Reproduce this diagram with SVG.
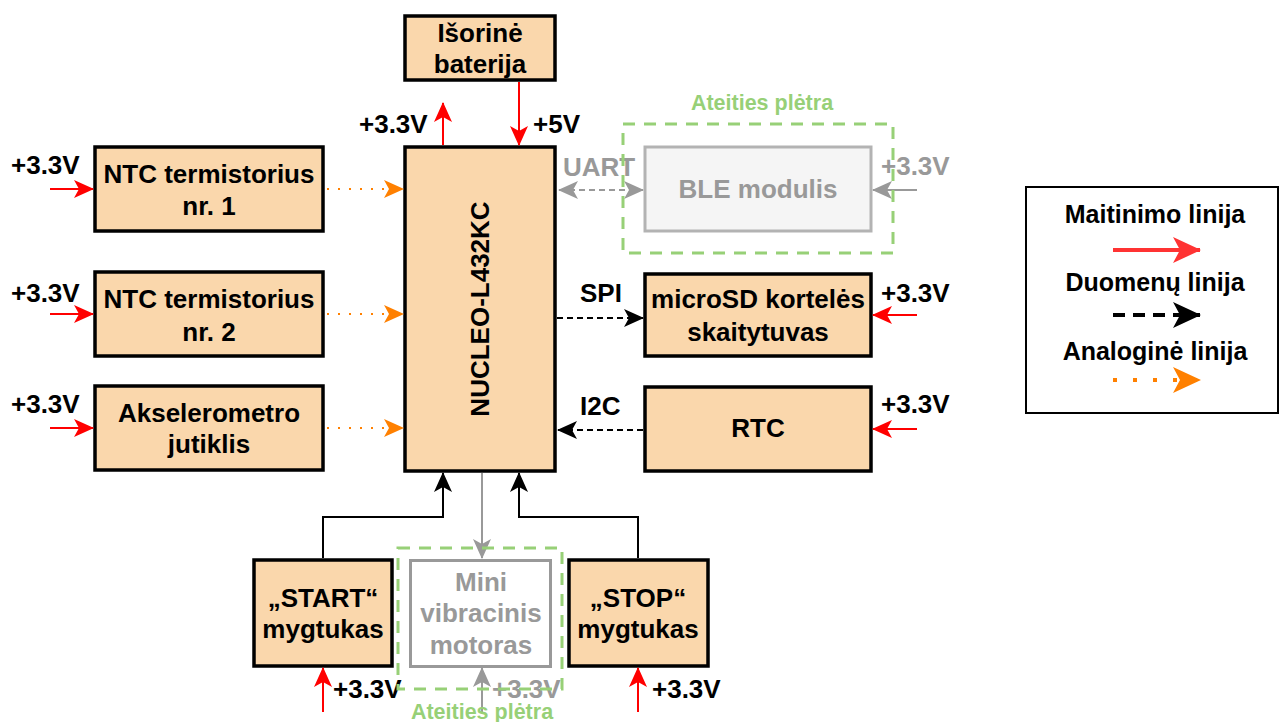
<svg xmlns="http://www.w3.org/2000/svg" width="1280" height="722" viewBox="0 0 1280 722">
<style>
text{font-family:"Liberation Sans",Arial,Helvetica,sans-serif;font-weight:bold;font-size:26px;fill:#000}
.c{text-anchor:middle}
.lg{font-size:25px}
.g{fill:#999999}
.gr{fill:#97d077;font-size:21.5px;text-anchor:middle}
.box{fill:#fad7ac;stroke:#000;stroke-width:3.5}
.fut{fill:none;stroke:#97d077;stroke-width:3;stroke-dasharray:12 9}
.pw{fill:none;stroke:#ff0000;stroke-width:2;marker-end:url(#mr)}
.an{fill:none;stroke:#ff8000;stroke-width:2;stroke-dasharray:2 9;marker-end:url(#mo)}
.dt{fill:none;stroke:#000;stroke-width:2;stroke-dasharray:6 4;marker-end:url(#mk)}
.sl{fill:none;stroke:#000;stroke-width:2;marker-end:url(#mk)}
.gl{fill:none;stroke:#999999;stroke-width:2;marker-end:url(#mg)}
</style>
<defs>
<marker id="mr" markerUnits="userSpaceOnUse" markerWidth="20" markerHeight="20" viewBox="0 0 20 20" refX="19" refY="10" orient="auto"><path d="M0,1 L20,10 L0,19 L5,10 Z" fill="#ff0000"/></marker>
<marker id="mo" markerUnits="userSpaceOnUse" markerWidth="20" markerHeight="20" viewBox="0 0 20 20" refX="19" refY="10" orient="auto"><path d="M0,1 L20,10 L0,19 L5,10 Z" fill="#ff8000"/></marker>
<marker id="mk" markerUnits="userSpaceOnUse" markerWidth="20" markerHeight="20" viewBox="0 0 20 20" refX="19" refY="10" orient="auto"><path d="M0,1 L20,10 L0,19 L5,10 Z" fill="#000"/></marker>
<marker id="mg" markerUnits="userSpaceOnUse" markerWidth="20" markerHeight="20" viewBox="0 0 20 20" refX="19" refY="10" orient="auto-start-reverse"><path d="M0,1 L20,10 L0,19 L5,10 Z" fill="#999999"/></marker>
<marker id="lr" markerUnits="userSpaceOnUse" markerWidth="28" markerHeight="28" viewBox="0 0 28 28" refX="27" refY="14" orient="auto"><path d="M0,1 L28,14 L0,27 L7,14 Z" fill="#ff3333"/></marker>
<marker id="lk" markerUnits="userSpaceOnUse" markerWidth="28" markerHeight="28" viewBox="0 0 28 28" refX="27" refY="14" orient="auto"><path d="M0,1 L28,14 L0,27 L7,14 Z" fill="#000"/></marker>
<marker id="lo" markerUnits="userSpaceOnUse" markerWidth="28" markerHeight="28" viewBox="0 0 28 28" refX="27" refY="14" orient="auto"><path d="M0,1 L28,14 L0,27 L7,14 Z" fill="#ff8000"/></marker>
</defs>
<rect width="1280" height="722" fill="#fff"/>

<g id="battery"><rect class="box" x="405" y="16" width="150" height="64"/><text class="c" x="480" y="42">Išorinė</text><text class="c" x="480" y="73">baterija</text></g>
<g id="nucleo"><rect class="box" x="405" y="147" width="150" height="324"/><text class="c" transform="translate(489,309) rotate(-90)">NUCLEO-L432KC</text></g>
<g id="ntc1"><rect class="box" x="95" y="147" width="228" height="84"/><text class="c" x="209" y="183">NTC termistorius</text><text class="c" x="209" y="215">nr. 1</text></g>
<g id="ntc2"><rect class="box" x="95" y="272" width="228" height="84"/><text class="c" x="209" y="308">NTC termistorius</text><text class="c" x="209" y="341">nr. 2</text></g>
<g id="accel"><rect class="box" x="95" y="386" width="228" height="84"/><text class="c" x="209" y="422">Akselerometro</text><text class="c" x="209" y="453">jutiklis</text></g>
<g id="ble"><rect x="645" y="147" width="226" height="84" fill="#f5f5f5" stroke="#b3b3b3" stroke-width="3"/><text class="c g" x="758" y="198">BLE modulis</text></g>
<g id="microsd"><rect class="box" x="645" y="274" width="226" height="82"/><text class="c" x="758" y="308">microSD kortelės</text><text class="c" x="758" y="341">skaitytuvas</text></g>
<g id="rtc"><rect class="box" x="645" y="387" width="226" height="84"/><text class="c" x="758" y="437">RTC</text></g>
<g id="start"><rect class="box" x="254" y="560" width="138" height="106"/><text class="c" x="323" y="607">„START“</text><text class="c" x="323" y="638">mygtukas</text></g>
<g id="motor"><rect x="410.5" y="560.5" width="140" height="106" fill="#fff" stroke="#999999" stroke-width="3"/><text class="c g" x="481" y="591">Mini</text><text class="c g" x="481" y="622">vibracinis</text><text class="c g" x="481" y="654">motoras</text></g>
<g id="stop"><rect class="box" x="569" y="560" width="139" height="106"/><text class="c" x="638" y="607">„STOP“</text><text class="c" x="638" y="638">mygtukas</text></g>

<g id="connectors">
<path class="pw" d="M50,189 H93"/>
<path class="pw" d="M50,314 H93"/>
<path class="pw" d="M50,428 H93"/>
<path class="an" d="M327,189 H403"/>
<path class="an" d="M327,314 H403"/>
<path class="an" d="M327,428 H403"/>
<path class="pw" d="M443,145 V103"/>
<path class="pw" d="M519,82 V145"/>
<path class="gl" d="M559,190 H643" stroke-dasharray="6 4" marker-start="url(#mg)"/>
<path class="gl" d="M917,190 H873"/>
<path class="dt" d="M557,318 H643"/>
<path class="dt" d="M643,430 H558"/>
<path class="pw" d="M917,315 H873"/>
<path class="pw" d="M917,429 H873"/>
<path class="sl" d="M323,558 V517 H443 V473"/>
<path class="sl" d="M638,558 V517 H519 V473"/>
<path class="gl" d="M482,473 V558"/>
<path class="pw" d="M323,712 V668"/>
<path class="gl" d="M482,712 V668"/>
<path class="pw" d="M638,712 V668"/>
</g>

<g id="labels">
<text x="11" y="174">+3.3V</text>
<text x="11" y="302">+3.3V</text>
<text x="11" y="413">+3.3V</text>
<text x="359" y="133">+3.3V</text>
<text x="533" y="133">+5V</text>
<text class="g" x="563" y="176">UART</text>
<text class="g" x="881" y="175">+3.3V</text>
<text x="580" y="302">SPI</text>
<text x="580" y="415">I2C</text>
<text x="881" y="302">+3.3V</text>
<text x="881" y="413">+3.3V</text>
<text x="333" y="698">+3.3V</text>
<text class="g" x="492" y="698">+3.3V</text>
<text x="652" y="698">+3.3V</text>
</g>

<g id="future-top"><rect class="fut" x="623" y="124" width="270" height="129"/><text class="gr" x="762" y="110">Ateities plėtra</text></g>
<g id="future-bottom"><rect class="fut" x="398" y="548" width="164" height="141"/><text class="gr" x="482" y="719">Ateities plėtra</text></g>

<g id="legend">
<rect x="1026" y="187" width="252" height="226" fill="#fff" stroke="#000" stroke-width="2"/>
<text class="c lg" x="1155" y="223">Maitinimo linija</text>
<path d="M1113,250 H1200" fill="none" stroke="#ff3333" stroke-width="4" marker-end="url(#lr)"/>
<text class="c lg" x="1155" y="291">Duomenų linija</text>
<path d="M1113,315 H1200" fill="none" stroke="#000" stroke-width="4" stroke-dasharray="12 8" marker-end="url(#lk)"/>
<text class="c lg" x="1155" y="360">Analoginė linija</text>
<path d="M1113,380 H1200" fill="none" stroke="#ff8000" stroke-width="4" stroke-dasharray="4 16" marker-end="url(#lo)"/>
</g>
</svg>
